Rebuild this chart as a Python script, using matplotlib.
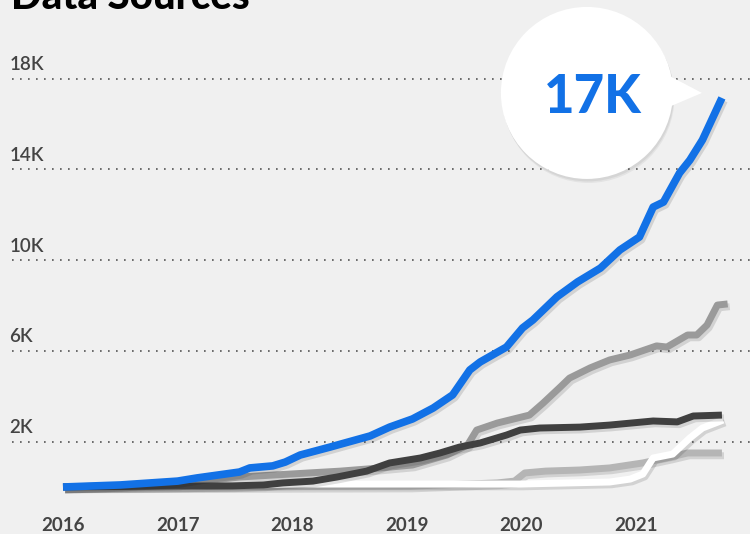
import numpy as np
import matplotlib
matplotlib.use('Agg')
import matplotlib.pyplot as plt
import matplotlib.patheffects as pe
from matplotlib.patches import Circle, Polygon

# series (x in fractional years, y in count)
blue_x = [2016.00, 2016.50, 2017.00, 2017.17, 2017.54, 2017.63, 2017.83, 2017.94, 2018.07,
          2018.33, 2018.68, 2018.85, 2019.05, 2019.23, 2019.40, 2019.55, 2019.64, 2019.87,
          2020.01, 2020.10, 2020.31, 2020.49, 2020.69, 2020.86, 2021.03, 2021.15, 2021.24,
          2021.38, 2021.47, 2021.58, 2021.75]
blue_y = [0, 90, 260, 400, 660, 840, 930, 1100, 1410,
          1760, 2250, 2640, 3000, 3480, 4060, 5160, 5510, 6170,
          7010, 7360, 8380, 9040, 9650, 10450, 11020, 12340, 12560,
          13840, 14410, 15300, 17150]

gray_x = [2016.00, 2017.00, 2017.22, 2017.54, 2017.98, 2018.42, 2018.77, 2019.05, 2019.35,
          2019.53, 2019.61, 2019.79, 2020.07, 2020.19, 2020.34, 2020.42, 2020.60, 2020.77,
          2020.95, 2021.18, 2021.27, 2021.45, 2021.53, 2021.62, 2021.71, 2021.80]
gray_y = [0, 130, 260, 440, 570, 700, 840, 970, 1410,
          1850, 2510, 2820, 3170, 3700, 4410, 4800, 5250, 5600,
          5820, 6220, 6170, 6700, 6700, 7140, 8020, 8070]

dark_x = [2016.00, 2017.00, 2017.48, 2017.75, 2017.92, 2018.18, 2018.39, 2018.65, 2018.85,
          2019.12, 2019.29, 2019.46, 2019.64, 2019.87, 2019.99, 2020.16, 2020.51, 2020.77,
          2021.15, 2021.36, 2021.50, 2021.75]
dark_y = [0, 40, 50, 90, 180, 260, 440, 700, 1060,
          1280, 1500, 1760, 1940, 2290, 2510, 2600, 2640, 2730,
          2910, 2870, 3130, 3170]

light_x = [2016.00, 2019.03, 2019.79, 2019.94, 2020.03, 2020.21, 2020.51, 2020.77, 2021.06,
           2021.30, 2021.45, 2021.75]
light_y = [0, 40, 180, 260, 620, 700, 750, 840, 1060, 1320, 1500, 1500]

white_x = [2016.00, 2017.00, 2018.07, 2019.03, 2019.99, 2020.77, 2020.95, 2021.06, 2021.15,
           2021.32, 2021.47, 2021.58, 2021.76]
white_y = [0, 44, 130, 130, 130, 220, 350, 570, 1280, 1450, 2160, 2600, 2950]

years = [2016, 2017, 2018, 2019, 2020, 2021]
yticks = [2000, 6000, 10000, 14000, 18000]
ylabels = ['2K', '6K', '10K', '14K', '18K']

BG = '#f0f0f0'
BLUE = '#1271e6'
TXT = '#444444'

plt.rcParams['font.family'] = ['Lato', 'DejaVu Sans']

W, H = 750, 534
fig = plt.figure(figsize=(W / 100, H / 100), dpi=100, facecolor=BG)
# axes placed in pixel terms: left 12, right 750, top 40, bottom 500
ax = fig.add_axes([12 / W, (H - 500) / H, (750 - 12) / W, (500 - 40) / H])
ax.set_facecolor(BG)
ax.set_xlim(2015.555, 2021.995)
ax.set_ylim(-573, 19704)
for s in ax.spines.values():
    s.set_visible(False)
ax.tick_params(length=0)
ax.set_yticks([])
ax.set_xticks(years)
ax.set_xticklabels([str(y) for y in years], fontsize=13.5, color=TXT, fontweight='bold')
ax.tick_params(axis='x', pad=12)

for v, lab in zip(yticks, ylabels):
    ax.axhline(v, color='#555555', lw=1.2, ls=(0, (1, 3.8)), zorder=1)
    ax.annotate(lab, xy=(0, v), xycoords=('axes fraction', 'data'),
                xytext=(-2, 4), textcoords='offset points',
                fontsize=13.5, color=TXT, va='bottom', ha='left', fontweight='semibold')

shadow = [pe.SimpleLineShadow(offset=(1.5, -2), shadow_color='black', alpha=0.12), pe.Normal()]
kw = dict(solid_capstyle='butt', solid_joinstyle='round', path_effects=shadow)
ax.plot(light_x, light_y, color='#b5b5b5', lw=5, zorder=2, **kw)
ax.plot(white_x, white_y, color='white', lw=5, zorder=3, **kw)
ax.plot(gray_x, gray_y, color='#9a9a9a', lw=5, zorder=4, **kw)
ax.plot(dark_x, dark_y, color='#404040', lw=5, zorder=5, **kw)
ax.plot(blue_x, blue_y, color=BLUE, lw=5.5, zorder=6, **kw)

# overlay in pixel coordinates for title and callout
ov = fig.add_axes([0, 0, 1, 1], facecolor='none')
ov.set_xlim(0, W)
ov.set_ylim(H, 0)
ov.axis('off')
ov.text(11, 9, 'Data Sources', fontsize=29, fontweight='black', color='black',
        ha='left', va='baseline')

# callout anchored on the last blue point
end_px = ov.transData.inverted().transform(ax.transData.transform((blue_x[-1], blue_y[-1])))
tip = (end_px[0] - 20, end_px[1] - 5)
cx, cy, r = tip[0] - 115, tip[1], 86
for off, a in [(4, 0.05), (2.5, 0.06)]:
    ov.add_patch(Circle((cx + off * 0.4, cy + off), r, facecolor='black', alpha=a,
                        edgecolor='none', zorder=7))
tri = Polygon([(cx + 75, cy - 21), tip, (cx + 75, cy + 17)], closed=True,
              facecolor='white', edgecolor='none', zorder=8)
ov.add_patch(tri)
ov.add_patch(Circle((cx, cy), r, facecolor='white', edgecolor='none', zorder=8))
ov.text(cx + 6, cy + 5, '17K', fontsize=38, fontweight='black', color=BLUE,
        ha='center', va='center', zorder=9)

fig.savefig('out.png', dpi=100, facecolor=BG)
